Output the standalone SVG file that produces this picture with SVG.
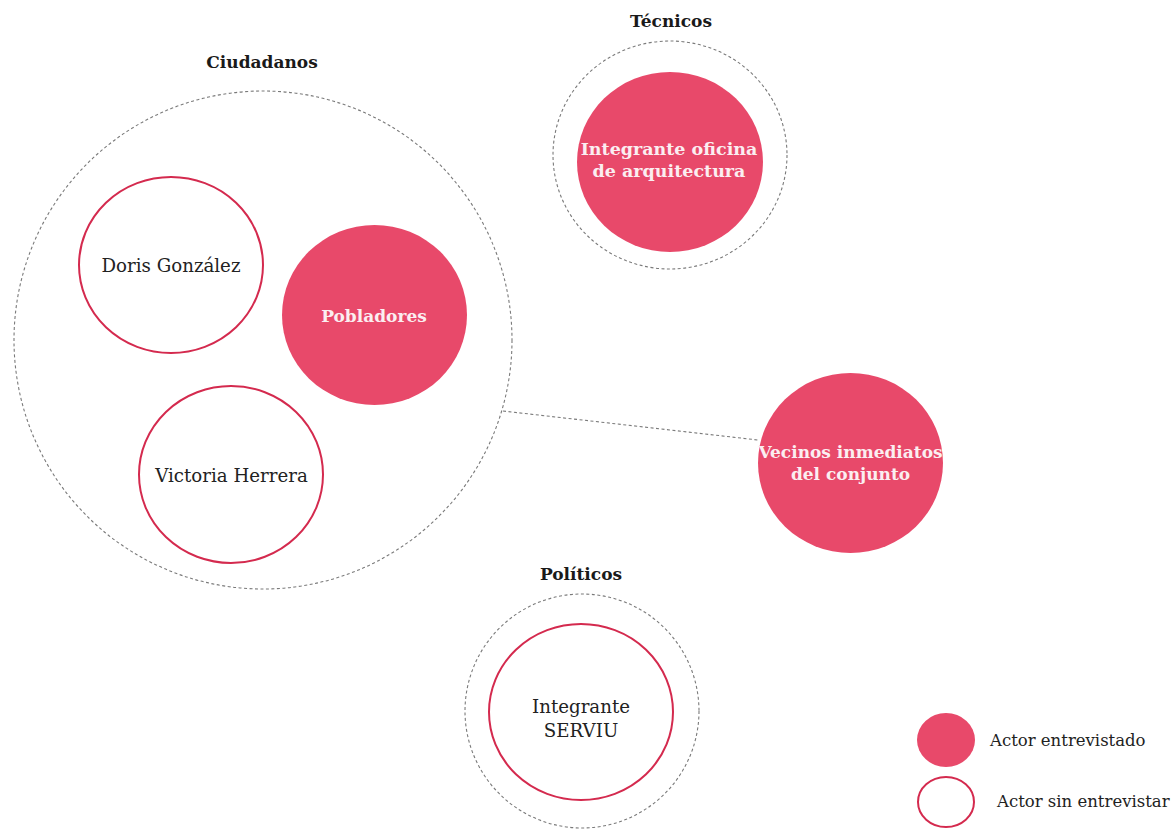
<svg xmlns="http://www.w3.org/2000/svg" width="1176" height="829" viewBox="0 0 1176 829">
<style>
.group{fill:none;stroke:#7a7a7a;stroke-width:1.1;stroke-dasharray:3 2.5}
.done{fill:#E8496A}
.todo{fill:#fff;stroke:#D42A4E;stroke-width:2}
.title{font-family:"DejaVu Serif","Liberation Serif",serif;font-weight:bold;font-size:17px;fill:#1a1a1a;text-anchor:middle}
.lw{font-family:"DejaVu Serif","Liberation Serif",serif;font-weight:bold;font-size:17px;fill:#fbeef1;text-anchor:middle}
.lb{font-family:"DejaVu Serif","Liberation Serif",serif;font-size:18.2px;fill:#222;text-anchor:middle}
.leg{font-family:"DejaVu Serif","Liberation Serif",serif;font-size:16.5px;fill:#222}
</style>
<rect width="1176" height="829" fill="#fff"/>
<g id="connectors">
<line x1="503" y1="411" x2="758" y2="440" class="group"/>
</g>
<g id="ciudadanos">
<text x="262" y="68" class="title">Ciudadanos</text>
<ellipse cx="263" cy="340" rx="249" ry="249" class="group"/>
</g>
<g id="doris">
<ellipse cx="171" cy="265" rx="92" ry="88" class="todo"/>
<text x="171" y="272" class="lb">Doris González</text>
</g>
<g id="pobladores">
<ellipse cx="374.5" cy="315" rx="92.5" ry="90" class="done"/>
<text x="374" y="322" class="lw">Pobladores</text>
</g>
<g id="victoria">
<ellipse cx="231" cy="474.5" rx="92" ry="88.5" class="todo"/>
<text x="231.5" y="482" class="lb">Victoria Herrera</text>
</g>
<g id="tecnicos">
<text x="671" y="27" class="title">Técnicos</text>
<ellipse cx="670" cy="155" rx="117" ry="114" class="group"/>
</g>
<g id="oficina">
<ellipse cx="670" cy="162" rx="93" ry="90" class="done"/>
<text x="669" y="155" class="lw" style="font-size:17.5px">Integrante oficina</text>
<text x="669" y="177" class="lw" style="font-size:17.5px">de arquitectura</text>
</g>
<g id="vecinos">
<ellipse cx="850.5" cy="463" rx="92.5" ry="90" class="done"/>
<text x="850.5" y="458" class="lw">Vecinos inmediatos</text>
<text x="850.5" y="480" class="lw">del conjunto</text>
</g>
<g id="politicos">
<text x="581" y="580" class="title">Políticos</text>
<ellipse cx="582" cy="711" rx="117" ry="117" class="group"/>
</g>
<g id="serviu">
<ellipse cx="581" cy="712" rx="92" ry="88" class="todo"/>
<text x="581" y="713" class="lb">Integrante</text>
<text x="581" y="737" class="lb">SERVIU</text>
</g>
<g id="legend">
<ellipse cx="946" cy="740" rx="29" ry="27" class="done"/>
<text x="990" y="746" class="leg">Actor entrevistado</text>
<ellipse cx="946" cy="802" rx="28" ry="25" class="todo"/>
<text x="997" y="807" class="leg">Actor sin entrevistar</text>
</g>
</svg>
